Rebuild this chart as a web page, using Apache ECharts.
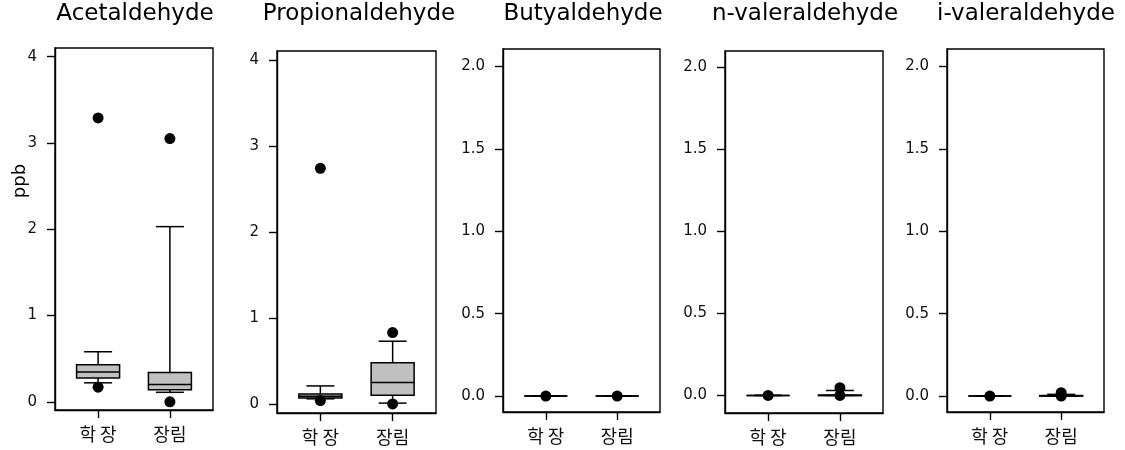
<!DOCTYPE html>
<html>
<head>
<meta charset="utf-8">
<script src="https://cdn.jsdelivr.net/npm/echarts@6/dist/echarts.min.js"></script>
<style>
  html, body { margin: 0; padding: 0; background: #fff; }
  #chart { width: 1125px; height: 450px; }
</style>
</head>
<body>
<div id="chart"></div>
<script>
// Sampling sites and compounds
const groups = ['학 장', '장림'];
const compounds = ['Acetaldehyde', 'Propionaldehyde', 'Butyaldehyde', 'n-valeraldehyde', 'i-valeraldehyde'];

// Box summaries per site: [lower whisker, Q1, median, Q3, upper whisker] (ppb)
const acetaldehydeBox = [[0.22, 0.275, 0.345, 0.43, 0.58], [0.11, 0.14, 0.20, 0.34, 2.03]];
const propionaldehydeBox = [[0.06, 0.07, 0.09, 0.115, 0.21], [0.01, 0.10, 0.25, 0.48, 0.73]];
const butyaldehydeBox = [[0, 0, 0, 0, 0], [0, 0, 0, 0, 0]];
const nValeraldehydeBox = [[0, 0, 0, 0, 0], [0, 0, 0, 0.003, 0.03]];
const iValeraldehydeBox = [[0, 0, 0, 0, 0], [0, 0, 0, 0.003, 0.01]];

// Points drawn beyond the whiskers, per site (ppb)
const acetaldehydeOut = [[3.29, 0.17], [3.05, 0.0]];
const propionaldehydeOut = [[2.74, 0.04], [0.83, 0.0]];
const butyaldehydeOut = [[0.0], [0.0]];
const nValeraldehydeOut = [[0.0], [0.047, 0.0]];
const iValeraldehydeOut = [[0.0], [0.02, 0.0]];

// Tick labels on the value axes
const yTicksWide = [0, 1, 2, 3, 4];
const yTicksNarrow = [0, 0.5, 1.0, 1.5, 2.0];

const boxes = [acetaldehydeBox, propionaldehydeBox, butyaldehydeBox, nValeraldehydeBox, iValeraldehydeBox];
const outs = [acetaldehydeOut, propionaldehydeOut, butyaldehydeOut, nValeraldehydeOut, iValeraldehydeOut];

// Panel frames (px) and value ranges
const panels = [
  { left: 55,  top: 48, width: 158, height: 362, yMin: -0.095, yMax: 4.1, ticks: yTicksWide,   digits: 0, titleX: 135 },
  { left: 277, top: 51, width: 159, height: 362, yMin: -0.105, yMax: 4.105, ticks: yTicksWide, digits: 0, titleX: 359 },
  { left: 503, top: 49, width: 157, height: 363, yMin: -0.097, yMax: 2.106, ticks: yTicksNarrow, digits: 1, titleX: 583 },
  { left: 725, top: 51, width: 158, height: 362, yMin: -0.107, yMax: 2.096, ticks: yTicksNarrow, digits: 1, titleX: 805 },
  { left: 947, top: 49, width: 157, height: 363, yMin: -0.097, yMax: 2.106, ticks: yTicksNarrow, digits: 1, titleX: 1026 }
];

const INK = '#000';
const LABEL = '#111';
const BOX_W = 43;
const CAP_W = 28;

function renderBox(params, api) {
  const x = api.value(0);
  const low = api.coord([x, api.value(1)]);
  const q1 = api.coord([x, api.value(2)]);
  const med = api.coord([x, api.value(3)]);
  const q3 = api.coord([x, api.value(4)]);
  const high = api.coord([x, api.value(5)]);
  const cx = med[0];
  const line = { stroke: INK, lineWidth: 1.5 };
  return {
    type: 'group',
    children: [
      { type: 'line', shape: { x1: cx, y1: q3[1], x2: cx, y2: high[1] }, style: line },
      { type: 'line', shape: { x1: cx, y1: q1[1], x2: cx, y2: low[1] }, style: line },
      { type: 'line', shape: { x1: cx - CAP_W / 2, y1: high[1], x2: cx + CAP_W / 2, y2: high[1] }, style: line },
      { type: 'line', shape: { x1: cx - CAP_W / 2, y1: low[1], x2: cx + CAP_W / 2, y2: low[1] }, style: line },
      { type: 'rect', shape: { x: cx - BOX_W / 2, y: q3[1], width: BOX_W, height: q1[1] - q3[1] },
        style: { fill: '#c0c0c0', stroke: INK, lineWidth: 1.5 } },
      { type: 'line', shape: { x1: cx - BOX_W / 2, y1: med[1], x2: cx + BOX_W / 2, y2: med[1] }, style: line }
    ]
  };
}

const grid = [], xAxis = [], yAxis = [], series = [], title = [];

panels.forEach((p, i) => {
  grid.push({
    left: p.left, top: p.top, width: p.width, height: p.height,
    show: true, borderColor: INK, borderWidth: 1.4, backgroundColor: 'transparent'
  });

  xAxis.push({
    gridIndex: i, type: 'value', min: 0.4, max: 2.6,
    splitLine: { show: false },
    axisLine: { show: true, onZero: false, lineStyle: { color: INK, width: 1.4 } },
    axisTick: { show: true, length: 8, customValues: [1, 2], lineStyle: { color: INK, width: 1.4 } },
    axisLabel: {
      customValues: [1, 2],
      formatter: v => groups[Math.round(v) - 1],
      margin: 15, fontFamily: 'Noto Sans CJK KR', fontSize: 18, color: LABEL
    }
  });

  yAxis.push({
    gridIndex: i, type: 'value', min: p.yMin, max: p.yMax,
    splitLine: { show: false },
    axisLine: { show: true, onZero: false, lineStyle: { color: INK, width: 1.4 } },
    axisTick: { show: true, length: 8, customValues: p.ticks, lineStyle: { color: INK, width: 1.4 } },
    axisLabel: {
      customValues: p.ticks,
      formatter: v => Number(v).toFixed(p.digits),
      margin: 18, fontFamily: 'DejaVu Sans', fontSize: 15, color: LABEL
    }
  });

  title.push({
    text: compounds[i], left: p.titleX, top: 3, padding: 0, textAlign: 'center',
    textStyle: { fontFamily: 'DejaVu Sans', fontSize: 23, fontWeight: 'normal', color: INK }
  });

  series.push({
    type: 'custom', xAxisIndex: i, yAxisIndex: i,
    renderItem: renderBox,
    encode: { x: 0, y: [1, 2, 3, 4, 5] },
    data: boxes[i].map((b, g) => [g + 1].concat(b)),
    silent: true, z: 2
  });

  const pts = [];
  outs[i].forEach((vals, g) => vals.forEach(v => pts.push([g + 1, v])));
  series.push({
    type: 'scatter', xAxisIndex: i, yAxisIndex: i,
    data: pts, symbol: 'circle', symbolSize: 11,
    itemStyle: { color: INK, opacity: 1 },
    silent: true, z: 3
  });
});

const chart = echarts.init(document.getElementById('chart'), null, { renderer: 'canvas' });
chart.setOption({
  animation: false,
  backgroundColor: '#fff',
  title,
  grid, xAxis, yAxis, series,
  graphic: [{
    type: 'text', x: 20, y: 181, rotation: Math.PI / 2,
    style: { text: 'ppb', font: '18px "DejaVu Sans"', fill: INK, align: 'center', verticalAlign: 'middle' }
  }]
});
</script>
</body>
</html>
